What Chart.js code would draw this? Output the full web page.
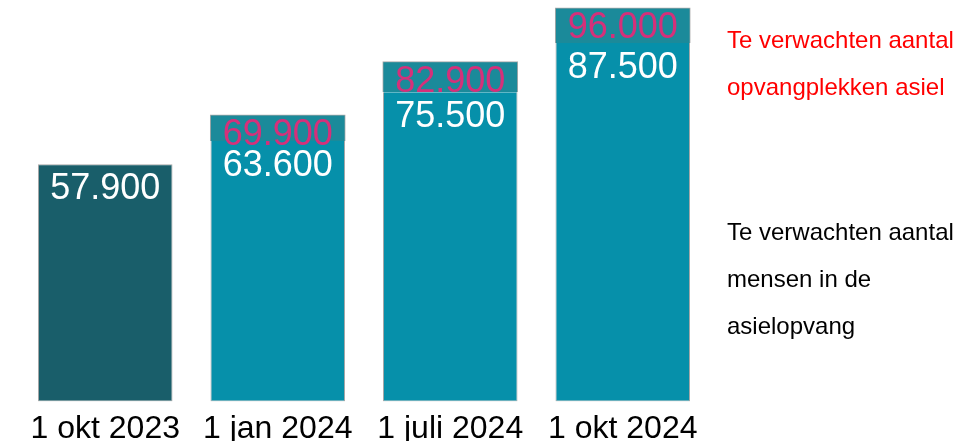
<!DOCTYPE html>
<html>
<head>
<meta charset="utf-8">
<script src="https://cdn.jsdelivr.net/npm/chart.js@4.4.1/dist/chart.umd.min.js"></script>
<style>
  html, body { margin: 0; padding: 0; background: #fff; overflow: hidden; }
  #wrap { position: relative; width: 980px; height: 441px; overflow: hidden; }
  #chart-box { position: absolute; left: 0; top: 0; width: 980px; height: 460px; }
  .legend { position: absolute; left: 727px; font-family: "Liberation Sans", Arial, sans-serif; font-size: 24px; line-height: 47px; }
  #leg-plekken { top: 16px; color: #ff0000; }
  #leg-mensen { top: 208px; color: #000; }
</style>
</head>
<body>
<div id="wrap">
  <div id="chart-box"><canvas id="asiel-chart"></canvas></div>
  <div class="legend" id="leg-plekken">Te verwachten aantal<br>opvangplekken asiel</div>
  <div class="legend" id="leg-mensen">Te verwachten aantal<br>mensen in de<br>asielopvang</div>
</div>
<script>
const labels = ['1 okt 2023', '1 jan 2024', '1 juli 2024', '1 okt 2024'];
const mensen = [57900, 63600, 75500, 87500];
const plekken = [null, 69900, 82900, 96000];

function formatNL(v) {
    return String(v).replace(/\B(?=(\d{3})+(?!\d))/g, '.');
}

// top segment = verschil tussen plekken en mensen
const extra = [];
for (var i in plekken) {
    extra.push(plekken[i] == null ? null : plekken[i] - mensen[i]);
}

// waarden bovenin de balken tekenen
const valueLabels = {
    id: 'valueLabels',
    afterDatasetsDraw(chart) {
        const ctx = chart.ctx;
        ctx.save();
        ctx.font = '36px "Liberation Sans", Arial, sans-serif';
        ctx.textAlign = 'center';
        ctx.textBaseline = 'top';
        chart.getDatasetMeta(0).data.forEach(function(bar, i) {
            ctx.fillStyle = '#ffffff';
            ctx.fillText(formatNL(mensen[i]), bar.x, bar.y + 7);
        });
        chart.getDatasetMeta(1).data.forEach(function(bar, i) {
            if (plekken[i] == null) return;
            ctx.fillStyle = '#d5307a';
            ctx.fillText(formatNL(plekken[i]), bar.x, bar.y + 2);
        });
        ctx.restore();
    }
};

const data = {
    labels: labels,
    datasets: [
        {
            label: 'Te verwachten aantal mensen in de asielopvang',
            data: mensen,
            backgroundColor: ['#195e6a', '#0690aa', '#0690aa', '#0690aa'],
            borderColor: '#a8a8a8',
            borderWidth: function(c) {
                return plekken[c.dataIndex] == null ? 1 : { top: 0, left: 1, right: 1, bottom: 1 };
            },
            borderSkipped: false,
            stack: 's'
        },
        {
            label: 'Te verwachten aantal opvangplekken asiel',
            data: extra,
            backgroundColor: '#1b8a9a',
            borderColor: '#a8a8a8',
            borderWidth: { top: 1, left: 1, right: 1, bottom: 0 },
            borderSkipped: false,
            inflateAmount: 0.6,
            stack: 's'
        }
    ]
};

const config = {
    type: 'bar',
    data: data,
    options: {
        responsive: true,
        maintainAspectRatio: false,
        animation: false,
        layout: { padding: { left: 19, right: 271, top: 0, bottom: 4 } },
        datasets: { bar: { categoryPercentage: 1, barPercentage: 0.78 } },
        plugins: { legend: { display: false }, tooltip: { enabled: false } },
        scales: {
            x: {
                stacked: true,
                grid: { display: false, drawTicks: false },
                border: { display: false },
                ticks: {
                    color: '#000',
                    padding: 8,
                    maxRotation: 0,
                    minRotation: 0,
                    autoSkip: false,
                    font: { family: '"Liberation Sans", Arial, sans-serif', size: 32 }
                }
            },
            y: {
                stacked: true,
                display: false,
                min: 0,
                max: 98000
            }
        }
    },
    plugins: [valueLabels]
};

const asielChart = new Chart(document.getElementById('asiel-chart'), config);
</script>
</body>
</html>
